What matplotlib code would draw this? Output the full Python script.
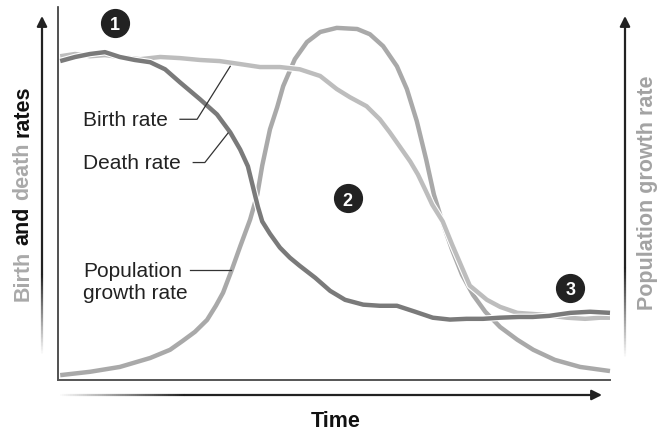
import numpy as np
import matplotlib
matplotlib.use('Agg')
import matplotlib.pyplot as plt
import matplotlib.patheffects as pe
from matplotlib.collections import LineCollection

plt.rcParams['font.family'] = ['Liberation Sans', 'DejaVu Sans']

# time axis runs 0..100, rates 0..100 (arbitrary units)
birth_t = [0.4, 3.1, 5.8, 8.5, 11.2, 14.9, 18.5, 22.1, 25.7, 29.3, 33.0, 36.6,
           40.2, 43.8, 47.5, 50.5, 52.9, 55.9, 58.3, 60.1, 62.0, 63.8, 65.2,
           66.5, 67.8, 69.7, 71.4, 73.2, 74.6, 77.7, 80.1, 83.2, 87.9, 92.2,
           95.5, 98.2, 100.0]
birth_rate = [86.8, 87.4, 86.8, 87.1, 86.6, 86.0, 86.6, 86.3, 85.8, 85.5, 84.7,
              83.9, 83.9, 83.3, 81.5, 78.0, 75.8, 73.4, 69.9, 66.4, 62.4, 58.6,
              55.1, 51.1, 47.0, 42.5, 36.3, 30.1, 25.3, 21.5, 19.6, 18.0, 17.5,
              16.7, 16.4, 16.7, 16.7]

death_t = [0.4, 3.1, 5.8, 8.5, 11.2, 13.9, 16.7, 19.4, 22.1, 25.7, 28.8, 31.2,
           33.0, 34.4, 35.3, 36.2, 37.0, 38.4, 40.2, 42.0, 43.8, 46.6, 49.3,
           52.0, 55.3, 58.3, 61.4, 64.7, 67.9, 71.0, 74.0, 77.0, 80.0, 83.5,
           86.0, 89.0, 92.8, 96.4, 100.0]
death_rate = [85.5, 86.6, 87.4, 87.9, 86.6, 85.8, 85.2, 83.3, 79.8, 75.3, 71.2,
              66.4, 61.8, 57.3, 51.9, 46.5, 42.5, 39.2, 35.5, 32.8, 30.6, 27.4,
              23.9, 21.5, 20.2, 19.9, 19.9, 18.3, 16.7, 16.2, 16.4, 16.4, 16.7,
              16.9, 16.9, 17.2, 18.0, 18.3, 18.0]

growth_t = [0.4, 5.8, 11.2, 16.7, 20.3, 22.6, 24.8, 27.0, 28.6, 29.9, 31.5,
            33.0, 34.8, 36.1, 37.0, 38.4, 39.7, 40.8, 42.9, 45.1, 47.5, 50.5,
            54.2, 56.5, 58.9, 61.4, 63.2, 65.0, 66.7, 68.1, 69.6, 71.4, 73.2,
            75.2, 77.4, 80.1, 83.2, 86.1, 90.0, 94.6, 100.0]
growth_rate = [1.3, 2.2, 3.5, 5.9, 8.1, 10.5, 12.9, 16.1, 19.9, 23.4, 29.6,
               35.8, 43.0, 49.7, 57.5, 67.2, 73.1, 78.8, 86.0, 90.6, 93.3, 94.4,
               94.1, 92.7, 89.5, 84.1, 78.0, 69.4, 59.1, 49.7, 42.5, 34.9, 28.2,
               22.8, 18.3, 14.2, 10.8, 8.1, 5.4, 3.5, 2.4]

stages = ['1', '2', '3']

FS = 15
W, H = 659, 431

fig = plt.figure(figsize=(W / 100, H / 100), dpi=100)
ax = fig.add_axes([58 / W, 1 - 381 / H, 552 / W, 373 / H])
ax.set_xlim(0, 100)
ax.set_ylim(0, 100)
ax.set_xticks([])
ax.set_yticks([])
for s in ['top', 'right']:
    ax.spines[s].set_visible(False)
ax.spines['left'].set_color('#333333')
ax.spines['left'].set_linewidth(1.2)
ax.spines['bottom'].set_color('#555555')
ax.spines['bottom'].set_linewidth(1.4)

outline = [pe.Stroke(linewidth=4.8, foreground='white'), pe.Normal()]
ax.plot(growth_t, growth_rate, color='#a9a9a9', lw=3.2, solid_capstyle='butt',
        solid_joinstyle='round', path_effects=outline, clip_on=False, zorder=3)
ax.plot(birth_t, birth_rate, color='#bdbdbd', lw=3.2, solid_capstyle='butt',
        solid_joinstyle='round', path_effects=outline, clip_on=False, zorder=4)
ax.plot(death_t, death_rate, color='#7a7a7a', lw=3.2, solid_capstyle='butt',
        solid_joinstyle='round', path_effects=outline, clip_on=False, zorder=5)

# labels with leader lines
ax.text(4.5, 69.9, 'Birth rate', fontsize=FS, color='#222222', va='center', ha='left')
ax.plot([22.1, 25.2, 31.2], [69.9, 69.9, 84.1], color='#333333', lw=0.9, zorder=6)
ax.text(4.5, 58.3, 'Death rate', fontsize=FS, color='#222222', va='center', ha='left')
ax.plot([24.5, 26.6, 30.8], [58.3, 58.3, 66.2], color='#333333', lw=0.9, zorder=6)
ax.text(4.5, 26.3, 'Population\ngrowth rate', fontsize=FS, color='#222222',
        va='center', ha='left', linespacing=1.2)
ax.plot([23.9, 31.4], [29.6, 29.6], color='#333333', lw=0.9, zorder=6)

# stage markers
for lab, (sx, sy) in zip(stages, [(10.3, 95.7), (52.5, 48.7), (92.8, 24.7)]):
    ax.scatter([sx], [sy], s=400, color='#222222', zorder=7, clip_on=False)
    ax.text(sx, sy - 0.5, lab, color='white', fontsize=13, fontweight='bold',
            ha='center', va='center', zorder=8)


def grad_arrow(x0, y0, x1, y1, xf, yf, n=60):
    # faded part from (x0,y0) to (xf,yf), solid from (xf,yf) to tip (x1,y1); pixel coords
    xs = np.linspace(x0, xf, n + 1)
    ys = np.linspace(y0, yf, n + 1)
    segs = [[(xs[i] / W, 1 - ys[i] / H), (xs[i + 1] / W, 1 - ys[i + 1] / H)] for i in range(n)]
    cols = [(0.13, 0.13, 0.13, (i + 1) / n) for i in range(n)]
    lc = LineCollection(segs, colors=cols, linewidths=1.6, transform=fig.transFigure)
    fig.add_artist(lc)
    fig.add_artist(matplotlib.patches.FancyArrowPatch(
        (xf / W, 1 - yf / H), (x1 / W, 1 - y1 / H), transform=fig.transFigure,
        arrowstyle='-|>,head_length=6,head_width=3', color='#222222', lw=1.6,
        shrinkA=0, shrinkB=0))


grad_arrow(42, 355, 42, 17, 42, 275)
grad_arrow(625, 358, 625, 17, 625, 268)
grad_arrow(60, 396, 602, 396, 185, 396)

fig.text(336 / W, 1 - 422 / H, 'Time', fontsize=15.5, fontweight='bold',
         color='#111111', ha='center', va='center')

fig.text(648 / W, 1 - 193 / H, 'Population growth rate', fontsize=15.5,
         fontweight='bold', color='#a3a3a3', rotation=90, ha='center', va='center')

# left label with mixed colours, built word by word from the bottom
renderer = fig.canvas.get_renderer()


def txt_h(s):
    t = fig.text(0, 0, s, fontsize=15.5, fontweight='bold', rotation=90)
    h = t.get_window_extent(renderer).height
    t.remove()
    return h


space = txt_h('a a') - txt_h('aa')
words = [('Birth', '#a9a9a9'), ('and', '#111111'), ('death', '#a9a9a9'), ('rates', '#111111')]
total = sum(txt_h(w) for w, _ in words) + space * (len(words) - 1)
ypix = H - 193 - total / 2
for w, c in words:
    fig.text(23 / W, ypix / H, w, fontsize=15.5, fontweight='bold', color=c,
             rotation=90, ha='center', va='bottom')
    ypix += txt_h(w) + space

fig.savefig('out.png', dpi=100)
